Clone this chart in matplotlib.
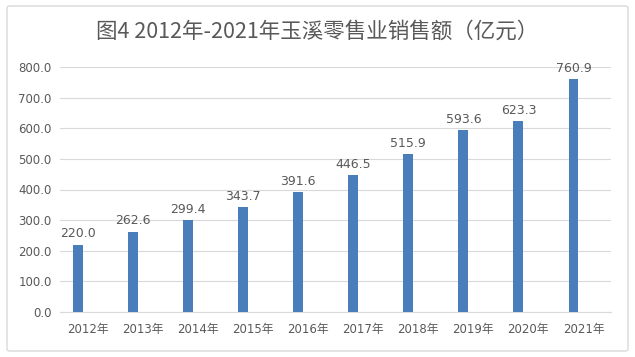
import matplotlib
matplotlib.use("Agg")
import matplotlib.pyplot as plt
from matplotlib.patches import FancyBboxPatch
import numpy as np

plt.rcParams['font.family'] = ['DejaVu Sans', 'Noto Sans CJK SC']

years = ["2012年", "2013年", "2014年", "2015年", "2016年", "2017年", "2018年", "2019年", "2020年", "2021年"]
sales = [220.0, 262.6, 299.4, 343.7, 391.6, 446.5, 515.9, 593.6, 623.3, 760.9]
yticks = [0, 100, 200, 300, 400, 500, 600, 700, 800]
title = "图4 2012年-2021年玉溪零售业销售额（亿元）"

text_color = "#595959"
bar_color = "#4A7EBB"
grid_color = "#D9D9D9"

fig = plt.figure(figsize=(6.35, 3.57), dpi=100)
fig.patch.set_facecolor("white")

# chart border
border = FancyBboxPatch((7/635, 6/357), 621/635, 345/357,
                        boxstyle="round,pad=0,rounding_size=0.005",
                        transform=fig.transFigure, facecolor="none",
                        edgecolor="#D9D9D9", linewidth=1.0)
fig.patches.append(border)

ax = fig.add_axes([60/635, 45/357, 551/635, 245/357])
x = np.arange(len(years))
ax.bar(x - 0.18, sales, width=0.18, color=bar_color, zorder=3)

for xi, v in zip(x, sales):
    ax.annotate(f"{v:.1f}", (xi - 0.18, v), xytext=(0, 3), textcoords="offset points",
                ha="center", va="bottom", fontsize=9, color=text_color)

ax.set_xlim(-0.5, len(years) - 0.5)
ax.set_ylim(0, 800)
ax.set_yticks(yticks)
ax.set_yticklabels([f"{t:.1f}" for t in yticks], fontsize=8.5, color=text_color)
ax.set_xticks(x)
ax.set_xticklabels(years, fontsize=8.5, color=text_color)
ax.tick_params(axis="y", length=0, pad=6)
ax.tick_params(axis="x", length=0, pad=8)
ax.grid(axis="y", color=grid_color, linewidth=0.8, zorder=0)
for s in ["top", "right", "left"]:
    ax.spines[s].set_visible(False)
ax.spines["bottom"].set_color(grid_color)
ax.spines["bottom"].set_linewidth(0.8)
ax.set_facecolor("none")

fig.text(0.5, 1 - 32/357, title, ha="center", va="center", fontsize=15.5,
         color=text_color, family=['Noto Sans CJK SC', 'DejaVu Sans'])

fig.savefig("out.png", dpi=100)
